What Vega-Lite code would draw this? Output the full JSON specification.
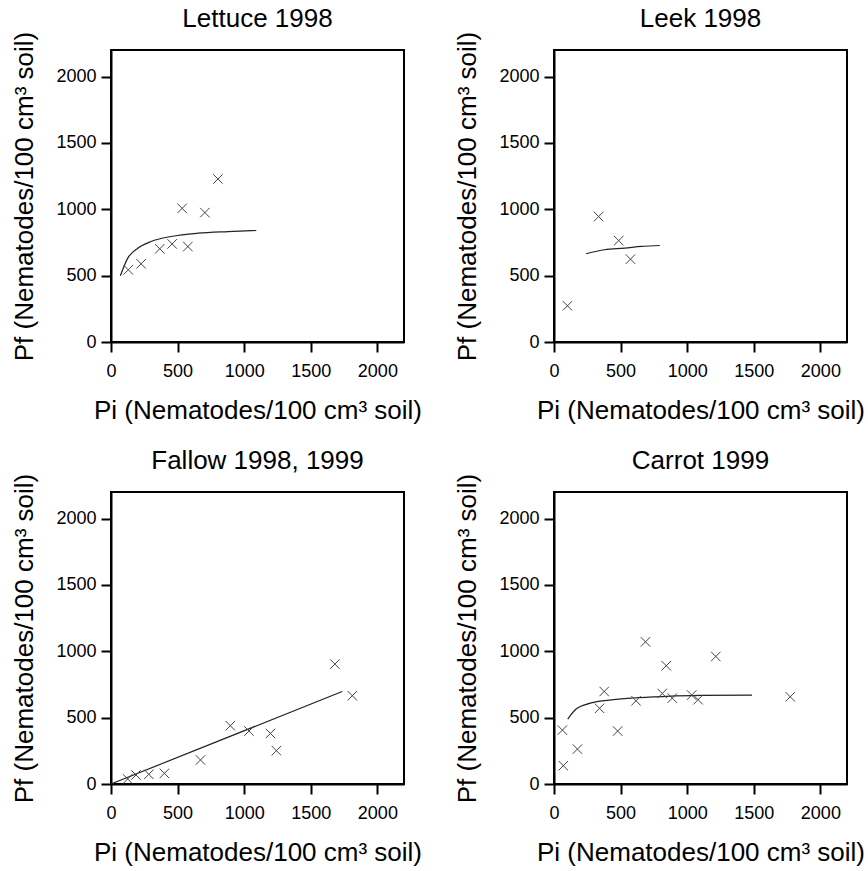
{
  "$schema": "https://vega.github.io/schema/vega-lite/v6.json",
  "background": "white",
  "padding": {"left": 10, "top": 5, "right": 0, "bottom": 0},
  "config": {
    "font": "Liberation Sans",
    "view": {"stroke": "black", "strokeWidth": 2},
    "axis": {
      "grid": false,
      "domainColor": "black",
      "domainWidth": 2,
      "tickColor": "black",
      "tickWidth": 2,
      "tickSize": 10,
      "format": "d",
      "labelFont": "Liberation Sans",
      "labelFontSize": 18,
      "labelColor": "black",
      "labelFlush": false,
      "labelOverlap": false,
      "titleFont": "Liberation Sans",
      "titleFontSize": 26,
      "titleFontWeight": "normal",
      "titleColor": "black"
    },
    "axisX": {"labelPadding": 10, "titlePadding": 17},
    "axisY": {"labelPadding": 5, "titlePadding": 18},
    "title": {"font": "Liberation Sans", "fontSize": 26, "fontWeight": "normal", "color": "black", "frame": "group", "baseline": "alphabetic", "offset": -1, "anchor": "middle"}
  },
  "datasets": {
    "lettuce_pts": [
      {"pi": 130, "pf": 544}, {"pi": 226, "pf": 589}, {"pi": 366, "pf": 702}, {"pi": 459, "pf": 739},
      {"pi": 577, "pf": 719}, {"pi": 534, "pf": 1007}, {"pi": 705, "pf": 975}, {"pi": 803, "pf": 1228}
    ],
    "lettuce_fit": [
      {"pi": 70, "pf": 499}, {"pi": 126, "pf": 632}, {"pi": 201, "pf": 707}, {"pi": 301, "pf": 757},
      {"pi": 452, "pf": 795}, {"pi": 653, "pf": 820}, {"pi": 878, "pf": 832}, {"pi": 1091, "pf": 840}
    ],
    "leek_pts": [
      {"pi": 101, "pf": 273}, {"pi": 335, "pf": 945}, {"pi": 486, "pf": 764}, {"pi": 574, "pf": 624}
    ],
    "leek_fit": [
      {"pi": 241, "pf": 665}, {"pi": 380, "pf": 695}, {"pi": 531, "pf": 707}, {"pi": 657, "pf": 720}, {"pi": 795, "pf": 727}
    ],
    "fallow_pts": [
      {"pi": 125, "pf": 38}, {"pi": 188, "pf": 68}, {"pi": 284, "pf": 73}, {"pi": 401, "pf": 80},
      {"pi": 672, "pf": 181}, {"pi": 896, "pf": 439}, {"pi": 1036, "pf": 399}, {"pi": 1197, "pf": 381},
      {"pi": 1242, "pf": 251}, {"pi": 1681, "pf": 903}, {"pi": 1812, "pf": 665}
    ],
    "fallow_fit": [
      {"pi": 0, "pf": 0}, {"pi": 1736, "pf": 697}
    ],
    "carrot_pts": [
      {"pi": 63, "pf": 406}, {"pi": 70, "pf": 138}, {"pi": 176, "pf": 263}, {"pi": 342, "pf": 570},
      {"pi": 377, "pf": 697}, {"pi": 478, "pf": 399}, {"pi": 616, "pf": 627}, {"pi": 687, "pf": 1071},
      {"pi": 813, "pf": 682}, {"pi": 843, "pf": 891}, {"pi": 888, "pf": 647}, {"pi": 1034, "pf": 670},
      {"pi": 1082, "pf": 635}, {"pi": 1215, "pf": 961}, {"pi": 1774, "pf": 657}
    ],
    "carrot_fit": [
      {"pi": 103, "pf": 489}, {"pi": 166, "pf": 565}, {"pi": 266, "pf": 607}, {"pi": 417, "pf": 632},
      {"pi": 594, "pf": 648}, {"pi": 845, "pf": 660}, {"pi": 1097, "pf": 667}, {"pi": 1487, "pf": 670}
    ]
  },
  "columns": 2,
  "spacing": 150,
  "bounds": "flush",
  "concat": [
    {
      "title": "Lettuce 1998",
      "width": 293, "height": 292,
      "encoding": {
        "x": {"field": "pi", "type": "quantitative", "scale": {"domain": [0, 2200], "nice": false}, "axis": {"values": [0, 500, 1000, 1500, 2000]}, "title": "Pi (Nematodes/100 cm³ soil)"},
        "y": {"field": "pf", "type": "quantitative", "scale": {"domain": [0, 2200], "nice": false}, "axis": {"values": [0, 500, 1000, 1500, 2000]}, "title": "Pf (Nematodes/100 cm³ soil)"}
      },
      "layer": [
        {"data": {"name": "lettuce_fit"}, "mark": {"type": "line", "color": "#222", "strokeWidth": 1.2, "interpolate": "monotone"}},
        {"data": {"name": "lettuce_pts"}, "mark": {"type": "point", "shape": "M-1,-1L1,1M-1,1L1,-1", "size": 90, "filled": false, "stroke": "#444", "strokeWidth": 1, "opacity": 1}}
      ]
    },
    {
      "title": "Leek 1998",
      "width": 293, "height": 292,
      "encoding": {
        "x": {"field": "pi", "type": "quantitative", "scale": {"domain": [0, 2200], "nice": false}, "axis": {"values": [0, 500, 1000, 1500, 2000]}, "title": "Pi (Nematodes/100 cm³ soil)"},
        "y": {"field": "pf", "type": "quantitative", "scale": {"domain": [0, 2200], "nice": false}, "axis": {"values": [0, 500, 1000, 1500, 2000]}, "title": "Pf (Nematodes/100 cm³ soil)"}
      },
      "layer": [
        {"data": {"name": "leek_fit"}, "mark": {"type": "line", "color": "#222", "strokeWidth": 1.2, "interpolate": "monotone"}},
        {"data": {"name": "leek_pts"}, "mark": {"type": "point", "shape": "M-1,-1L1,1M-1,1L1,-1", "size": 90, "filled": false, "stroke": "#444", "strokeWidth": 1, "opacity": 1}}
      ]
    },
    {
      "title": "Fallow 1998, 1999",
      "width": 293, "height": 292,
      "encoding": {
        "x": {"field": "pi", "type": "quantitative", "scale": {"domain": [0, 2200], "nice": false}, "axis": {"values": [0, 500, 1000, 1500, 2000]}, "title": "Pi (Nematodes/100 cm³ soil)"},
        "y": {"field": "pf", "type": "quantitative", "scale": {"domain": [0, 2200], "nice": false}, "axis": {"values": [0, 500, 1000, 1500, 2000]}, "title": "Pf (Nematodes/100 cm³ soil)"}
      },
      "layer": [
        {"data": {"name": "fallow_fit"}, "mark": {"type": "line", "color": "#222", "strokeWidth": 1.2}},
        {"data": {"name": "fallow_pts"}, "mark": {"type": "point", "shape": "M-1,-1L1,1M-1,1L1,-1", "size": 90, "filled": false, "stroke": "#444", "strokeWidth": 1, "opacity": 1}}
      ]
    },
    {
      "title": "Carrot 1999",
      "width": 293, "height": 292,
      "encoding": {
        "x": {"field": "pi", "type": "quantitative", "scale": {"domain": [0, 2200], "nice": false}, "axis": {"values": [0, 500, 1000, 1500, 2000]}, "title": "Pi (Nematodes/100 cm³ soil)"},
        "y": {"field": "pf", "type": "quantitative", "scale": {"domain": [0, 2200], "nice": false}, "axis": {"values": [0, 500, 1000, 1500, 2000]}, "title": "Pf (Nematodes/100 cm³ soil)"}
      },
      "layer": [
        {"data": {"name": "carrot_fit"}, "mark": {"type": "line", "color": "#222", "strokeWidth": 1.2, "interpolate": "monotone"}},
        {"data": {"name": "carrot_pts"}, "mark": {"type": "point", "shape": "M-1,-1L1,1M-1,1L1,-1", "size": 90, "filled": false, "stroke": "#444", "strokeWidth": 1, "opacity": 1}}
      ]
    }
  ]
}
